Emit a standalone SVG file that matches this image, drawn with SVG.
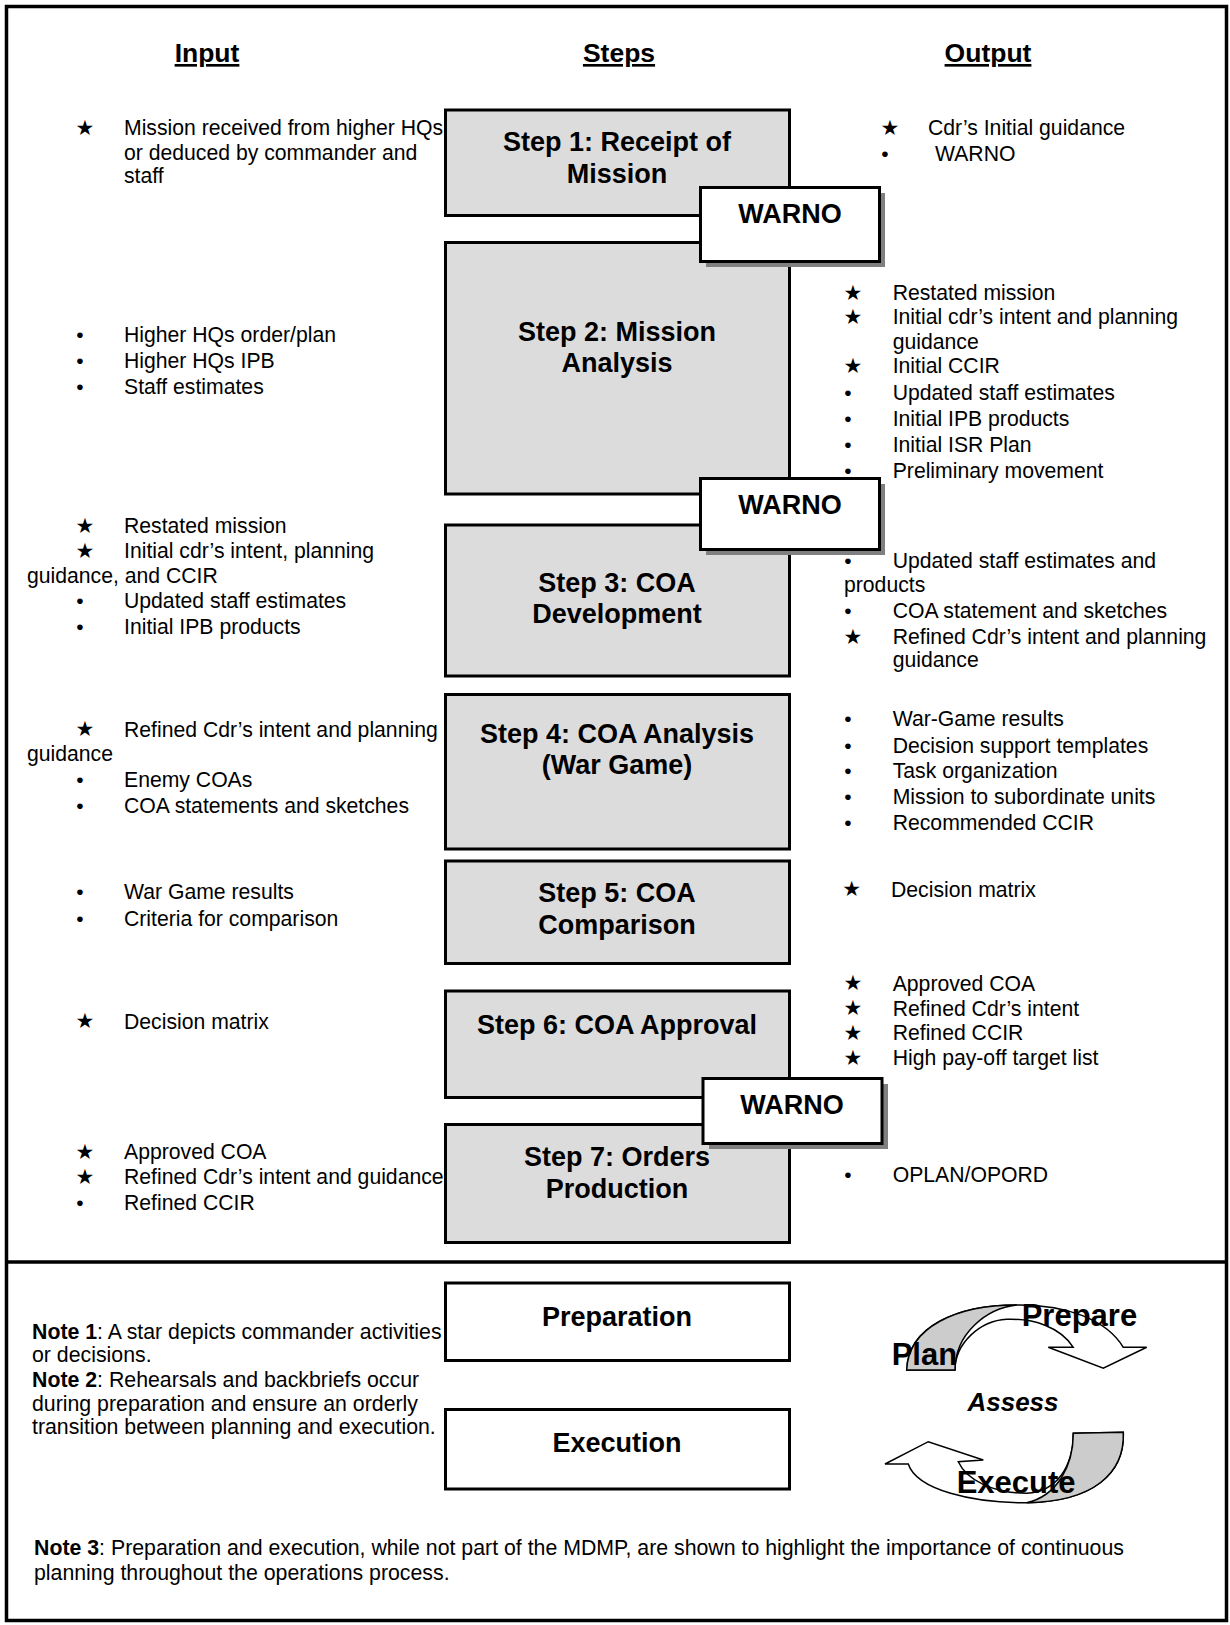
<svg xmlns="http://www.w3.org/2000/svg" width="1230" height="1625" viewBox="0 0 1230 1625">
<style>
text{font-family:"Liberation Sans",Arial,sans-serif;fill:#000}
.t{font-size:21.2px}
.n{font-size:21.3px}
.h{font-size:26.5px;font-weight:bold;text-decoration:underline;text-anchor:middle}
.s{font-size:27px;font-weight:bold;text-anchor:middle}
.star{font-family:"DejaVu Sans",sans-serif;font-size:21px;text-anchor:middle}
.bul{font-size:21px;text-anchor:middle}
.box{fill:#dcdcdc;stroke:#000;stroke-width:3}
.wbox{fill:#fff;stroke:#000;stroke-width:3}
.shadow{fill:#808080}
.frame{fill:none;stroke:#000;stroke-width:3.5}
.arr{fill:#fff;stroke:#000;stroke-width:1.5}
.arrg{fill:#cccccc;stroke:#000;stroke-width:1.5}
.cyc{font-size:31px;font-weight:bold}
</style>
<rect class="frame" x="6.5" y="6.5" width="1220" height="1614"/>
<line x1="6" y1="1262" x2="1227" y2="1262" stroke="#000" stroke-width="3.5"/>

<g id="headers">
<text class="h" x="207" y="62">Input</text>
<text class="h" x="619" y="62">Steps</text>
<text class="h" x="988" y="62">Output</text>
</g>

<g id="step1"><rect class="box" x="445.5" y="110" width="344" height="105.5"/>
<text class="s" x="617" y="151">Step 1: Receipt of</text><text class="s" x="617" y="182.7">Mission</text></g>
<g id="step2"><rect class="box" x="445.5" y="242.5" width="344" height="251.5"/>
<text class="s" x="617" y="340.5">Step 2: Mission</text><text class="s" x="617" y="372">Analysis</text></g>
<g id="step3"><rect class="box" x="445.5" y="525" width="344" height="151"/>
<text class="s" x="617" y="591.7">Step 3: COA</text><text class="s" x="617" y="623">Development</text></g>
<g id="step4"><rect class="box" x="445.5" y="694.5" width="344" height="154.5"/>
<text class="s" x="617" y="742.5">Step 4: COA Analysis</text><text class="s" x="617" y="774">(War Game)</text></g>
<g id="step5"><rect class="box" x="445.5" y="861" width="344" height="102.5"/>
<text class="s" x="617" y="902">Step 5: COA</text><text class="s" x="617" y="934">Comparison</text></g>
<g id="step6"><rect class="box" x="445.5" y="991" width="344" height="106.5"/>
<text class="s" x="617" y="1033.5">Step 6: COA Approval</text></g>
<g id="step7"><rect class="box" x="445.5" y="1124.5" width="344" height="118"/>
<text class="s" x="617" y="1166">Step 7: Orders</text><text class="s" x="617" y="1197.7">Production</text></g>

<g id="warno1"><rect class="shadow" x="706" y="193" width="179" height="74"/><rect class="wbox" x="700.5" y="187.5" width="179" height="74"/>
<text class="s" x="790" y="223">WARNO</text></g>
<g id="warno2"><rect class="shadow" x="706" y="484" width="179" height="71"/><rect class="wbox" x="700.5" y="478.5" width="179" height="71"/>
<text class="s" x="790" y="514">WARNO</text></g>
<g id="warno3"><rect class="shadow" x="709" y="1084" width="179" height="65"/><rect class="wbox" x="703" y="1078.5" width="179" height="65"/>
<text class="s" x="792" y="1114">WARNO</text></g>

<g id="prep"><rect class="wbox" x="445.5" y="1283" width="344" height="77.5"/>
<text class="s" x="617" y="1325.8">Preparation</text></g>
<g id="exec"><rect class="wbox" x="445.5" y="1409.5" width="344" height="79.5"/>
<text class="s" x="617" y="1452.2">Execution</text></g>

<g id="input">
<text class="star" x="85" y="134.5">★</text>
<text class="t" x="124" y="135">Mission received from higher HQs</text>
<text class="t" x="124" y="159.5">or deduced by commander and</text>
<text class="t" x="124" y="183">staff</text>

<text class="bul" x="80" y="341.5">•</text><text class="t" x="124" y="341.5">Higher HQs order/plan</text>
<text class="bul" x="80" y="367.5">•</text><text class="t" x="124" y="367.5">Higher HQs IPB</text>
<text class="bul" x="80" y="393.5">•</text><text class="t" x="124" y="393.5">Staff estimates</text>

<text class="star" x="85" y="532.8">★</text><text class="t" x="124" y="533.3">Restated mission</text>
<text class="star" x="85" y="557.8">★</text><text class="t" x="124" y="558.3">Initial cdr’s intent, planning</text>
<text class="t" x="27" y="582.5">guidance, and CCIR</text>
<text class="bul" x="80" y="608.3">•</text><text class="t" x="124" y="608.3">Updated staff estimates</text>
<text class="bul" x="80" y="634">•</text><text class="t" x="124" y="634">Initial IPB products</text>

<text class="star" x="85" y="736.2">★</text><text class="t" x="124" y="736.7">Refined Cdr’s intent and planning</text>
<text class="t" x="27" y="760.5">guidance</text>
<text class="bul" x="80" y="786.7">•</text><text class="t" x="124" y="786.7">Enemy COAs</text>
<text class="bul" x="80" y="812.7">•</text><text class="t" x="124" y="812.7">COA statements and sketches</text>

<text class="bul" x="80" y="899">•</text><text class="t" x="124" y="899">War Game results</text>
<text class="bul" x="80" y="925.5">•</text><text class="t" x="124" y="925.5">Criteria for comparison</text>

<text class="star" x="85" y="1028">★</text><text class="t" x="124" y="1028.5">Decision matrix</text>

<text class="star" x="85" y="1158.5">★</text><text class="t" x="124" y="1159">Approved COA</text>
<text class="star" x="85" y="1183.5">★</text><text class="t" x="124" y="1184">Refined Cdr’s intent and guidance</text>
<text class="bul" x="80" y="1210">•</text><text class="t" x="124" y="1210">Refined CCIR</text>
</g>

<g id="output">
<text class="star" x="890" y="134.5">★</text><text class="t" x="928" y="135">Cdr’s Initial guidance</text>
<text class="bul" x="885" y="160.7">•</text><text class="t" x="935" y="160.7">WARNO</text>

<text class="star" x="853" y="299.5">★</text><text class="t" x="892.7" y="300">Restated mission</text>
<text class="star" x="853" y="323.8">★</text><text class="t" x="892.7" y="324.3">Initial cdr’s intent and planning</text>
<text class="t" x="892.7" y="348.5">guidance</text>
<text class="star" x="853" y="372.8">★</text><text class="t" x="892.7" y="373.3">Initial CCIR</text>
<text class="bul" x="848" y="400">•</text><text class="t" x="892.7" y="400">Updated staff estimates</text>
<text class="bul" x="848" y="426">•</text><text class="t" x="892.7" y="426">Initial IPB products</text>
<text class="bul" x="848" y="451.7">•</text><text class="t" x="892.7" y="451.7">Initial ISR Plan</text>
<text class="bul" x="848" y="477.7">•</text><text class="t" x="892.7" y="477.7">Preliminary movement</text>

<text class="bul" x="848" y="568.3">•</text><text class="t" x="892.7" y="568.3">Updated staff estimates and</text>
<text class="t" x="844" y="591.7">products</text>
<text class="bul" x="848" y="618.3">•</text><text class="t" x="892.7" y="618.3">COA statement and sketches</text>
<text class="star" x="853" y="643.5">★</text><text class="t" x="892.7" y="644">Refined Cdr’s intent and planning</text>
<text class="t" x="892.7" y="667">guidance</text>

<text class="bul" x="848" y="726">•</text><text class="t" x="892.7" y="726">War-Game results</text>
<text class="bul" x="848" y="752.7">•</text><text class="t" x="892.7" y="752.7">Decision support templates</text>
<text class="bul" x="848" y="778.3">•</text><text class="t" x="892.7" y="778.3">Task organization</text>
<text class="bul" x="848" y="804">•</text><text class="t" x="892.7" y="804">Mission to subordinate units</text>
<text class="bul" x="848" y="830">•</text><text class="t" x="892.7" y="830">Recommended CCIR</text>

<text class="star" x="851.7" y="896.2">★</text><text class="t" x="891" y="896.7">Decision matrix</text>

<text class="star" x="853" y="990.2">★</text><text class="t" x="892.7" y="990.7">Approved COA</text>
<text class="star" x="853" y="1015.2">★</text><text class="t" x="892.7" y="1015.7">Refined Cdr’s intent</text>
<text class="star" x="853" y="1039.5">★</text><text class="t" x="892.7" y="1040">Refined CCIR</text>
<text class="star" x="853" y="1064.5">★</text><text class="t" x="892.7" y="1065">High pay-off target list</text>

<text class="bul" x="848" y="1182.3">•</text><text class="t" x="892.7" y="1182.3">OPLAN/OPORD</text>
</g>

<g id="notes">
<text class="n" x="32" y="1339"><tspan font-weight="bold">Note 1</tspan>: A star depicts commander activities</text>
<text class="n" x="32" y="1362">or decisions.</text>
<text class="n" x="32" y="1386.7"><tspan font-weight="bold">Note 2</tspan>: Rehearsals and backbriefs occur</text>
<text class="n" x="32" y="1410.7">during preparation and ensure an orderly</text>
<text class="n" x="32" y="1434">transition between planning and execution.</text>
<text class="n" x="34" y="1554.5"><tspan font-weight="bold">Note 3</tspan>: Preparation and execution, while not part of the MDMP, are shown to highlight the importance of continuous</text>
<text class="n" x="34" y="1579.7">planning throughout the operations process.</text>
</g>

<g id="cycle">
<path class="arr" d="M906.7,1370 C908.3,1326.7 956.7,1305 1016.7,1305 C1066.7,1304.3 1106.7,1320 1123.3,1347.3 L1146.7,1347.3 L1103.3,1368.3 L1048.3,1347.3 L1073.3,1347.3 C1060,1326.7 1033.3,1318.3 1006.7,1319.3 C980,1320.7 955,1343.3 955,1370 Z"/>
<path class="arrg" d="M906.7,1370 C908.3,1326.7 956.7,1305 1016.7,1305 C986.7,1308.3 955,1333.3 955,1370 Z"/>
<path class="arr" d="M1123.3,1432.3 C1125,1473.3 1093.3,1501.7 1026.7,1502.7 C973.3,1503.3 916.7,1490 908.3,1464 L885,1464 L928.3,1441.7 L983.3,1460 L958.3,1461.7 C966.7,1480 993.3,1493.3 1026.7,1493.3 C1056.7,1491.7 1073.3,1466.7 1073.3,1433.3 Z"/>
<path class="arrg" d="M1073.3,1433.3 L1123.3,1432.3 C1125,1473.3 1093.3,1501.7 1026.7,1502.7 C1056.7,1496 1073.3,1466.7 1073.3,1433.3 Z"/>
<text class="cyc" x="1021.7" y="1325.7">Prepare</text>
<text class="cyc" x="891.7" y="1365">Plan</text>
<text x="1013" y="1411" font-size="26px" font-weight="bold" font-style="italic" text-anchor="middle">Assess</text>
<text class="cyc" x="956.7" y="1493.3" font-size="32px">Execute</text>
</g>
</svg>
